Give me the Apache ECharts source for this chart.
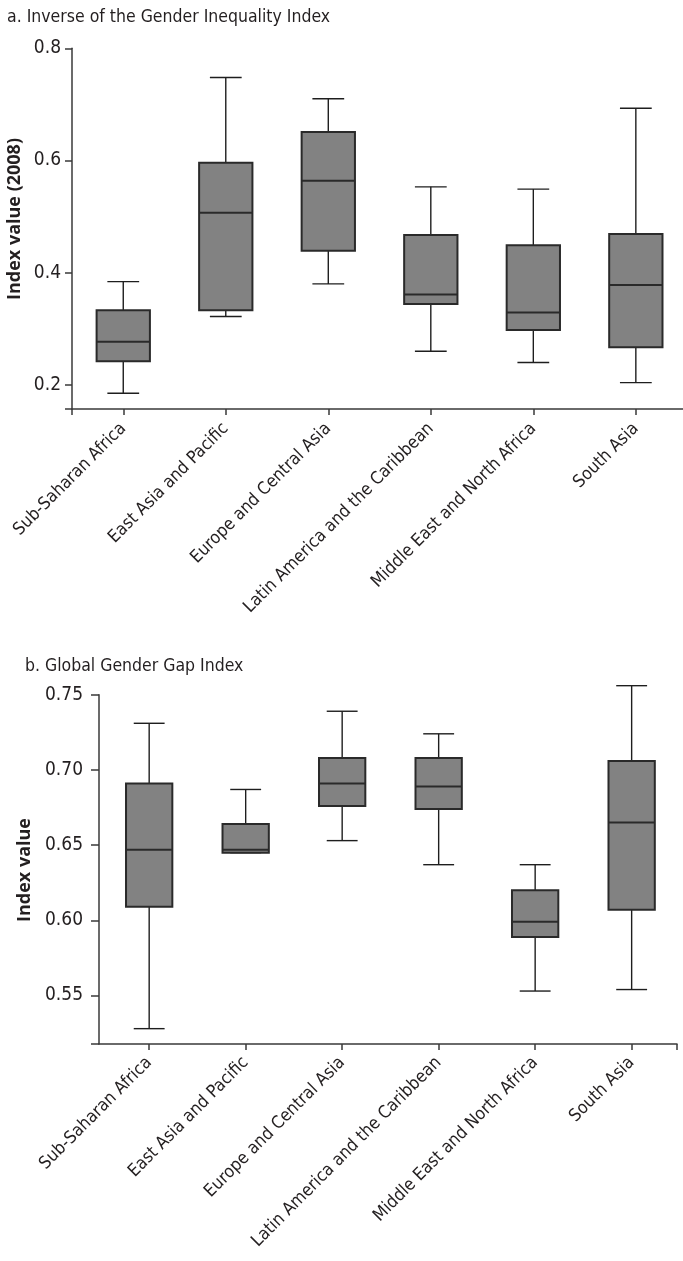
<!DOCTYPE html>
<html>
<head>
<meta charset="utf-8">
<script src="https://cdn.jsdelivr.net/npm/echarts@6/dist/echarts.min.js"></script>
<style>
html,body{margin:0;padding:0;background:#fff;}
#chart{width:683px;height:1261px;}
</style>
</head>
<body>
<div id="chart"></div>
<script>
// ---- data ----
const categories = ['Sub-Saharan Africa', 'East Asia and Pacific', 'Europe and Central Asia',
  'Latin America and the Caribbean', 'Middle East and North Africa', 'South Asia'];

// a. Inverse of the Gender Inequality Index (2008)
const giiMin    = [0.185, 0.322, 0.380, 0.260, 0.240, 0.204];
const giiQ1     = [0.242, 0.333, 0.439, 0.344, 0.298, 0.267];
const giiMedian = [0.277, 0.507, 0.564, 0.361, 0.329, 0.378];
const giiQ3     = [0.333, 0.596, 0.651, 0.467, 0.449, 0.469];
const giiMax    = [0.384, 0.748, 0.710, 0.553, 0.549, 0.693];
const giiTicks  = [0.2, 0.4, 0.6, 0.8];

// b. Global Gender Gap Index
const gggMin    = [0.528, 0.645, 0.653, 0.637, 0.553, 0.554];
const gggQ1     = [0.609, 0.645, 0.676, 0.674, 0.589, 0.607];
const gggMedian = [0.647, 0.647, 0.691, 0.689, 0.599, 0.665];
const gggQ3     = [0.691, 0.664, 0.708, 0.708, 0.620, 0.706];
const gggMax    = [0.731, 0.687, 0.739, 0.724, 0.637, 0.756];
const gggTicks  = [0.55, 0.60, 0.65, 0.70, 0.75];

const titleA = 'a. Inverse of the Gender Inequality Index';
const titleB = 'b. Global Gender Gap Index';
const yNameA = 'Index value (2008)';
const yNameB = 'Index value';

// ---- build ----
const catIdx = categories.map((c, i) => i);
function rows(mn, q1, md, q3, mx) {
  return catIdx.map(i => [i, mn[i], q1[i], md[i], q3[i], mx[i]]);
}
const narrow = "'Liberation Sans Narrow','DejaVu Sans Condensed','Roboto Condensed',sans-serif";
const bold = "'Open Sans','Noto Sans',sans-serif";
const axisColor = '#3a3a3a';
const textColor = '#231f20';

function makeRender(boxFrac, capFrac) {
  return function (params, api) {
    const x = api.value(0);
    const lo = api.coord([x, api.value(1)]);
    const q1 = api.coord([x, api.value(2)]);
    const md = api.coord([x, api.value(3)]);
    const q3 = api.coord([x, api.value(4)]);
    const hi = api.coord([x, api.value(5)]);
    const unit = api.size([1, 0])[0];
    const bw = unit * boxFrac, cw = unit * capFrac;
    const cx = lo[0];
    const lineStyle = { stroke: '#1e1e1e', lineWidth: 1.4 };
    return {
      type: 'group',
      children: [
        { type: 'line', shape: { x1: cx, y1: hi[1], x2: cx, y2: q3[1] }, style: lineStyle },
        { type: 'line', shape: { x1: cx, y1: q1[1], x2: cx, y2: lo[1] }, style: lineStyle },
        { type: 'line', shape: { x1: cx - cw / 2, y1: hi[1], x2: cx + cw / 2, y2: hi[1] }, style: lineStyle },
        { type: 'line', shape: { x1: cx - cw / 2, y1: lo[1], x2: cx + cw / 2, y2: lo[1] }, style: lineStyle },
        { type: 'rect', shape: { x: cx - bw / 2, y: q3[1], width: bw, height: q1[1] - q3[1] },
          style: { fill: '#828282', stroke: '#2a2a2a', lineWidth: 2 } },
        { type: 'line', shape: { x1: cx - bw / 2, y1: md[1], x2: cx + bw / 2, y2: md[1] },
          style: { stroke: '#2a2a2a', lineWidth: 2 } }
      ]
    };
  };
}

function xAxisCfg(gridIndex, min, max, tickVals, margin) {
  return {
    type: 'value', gridIndex, min, max,
    splitLine: { show: false },
    axisLine: { show: true, onZero: false, lineStyle: { color: axisColor, width: 1.5 } },
    axisTick: { show: true, length: 6, customValues: tickVals, lineStyle: { color: axisColor, width: 1.5 } },
    axisLabel: {
      customValues: catIdx, rotate: 45, margin,
      formatter: v => categories[Math.round(v)],
      fontFamily: narrow, fontSize: 17.5, color: textColor
    }
  };
}
function yAxisCfg(gridIndex, min, max, labels, decimals, tickLen, margin) {
  return {
    type: 'value', gridIndex, min, max,
    splitLine: { show: false },
    axisLine: { show: true, onZero: false, lineStyle: { color: axisColor, width: 1.5 } },
    axisTick: { show: true, length: tickLen, customValues: [min].concat(labels), lineStyle: { color: axisColor, width: 1.5 } },
    axisLabel: {
      customValues: labels, margin,
      formatter: v => v.toFixed(decimals),
      fontFamily: narrow, fontSize: 19, color: textColor
    }
  };
}

const option = {
  backgroundColor: '#fff',
  animation: false,
  title: [
    { text: titleA, left: 2, top: 3, textStyle: { fontFamily: narrow, fontSize: 17.5, fontWeight: 'normal', color: textColor } },
    { text: titleB, left: 20, top: 652, textStyle: { fontFamily: narrow, fontSize: 17.5, fontWeight: 'normal', color: textColor } }
  ],
  grid: [
    { left: 72, top: 48.3, right: 0, height: 360.7 },
    { left: 99, top: 694.7, width: 578, height: 349.3 }
  ],
  xAxis: [
    xAxisCfg(0, -0.5, 5.46, [-0.5].concat(catIdx), 17),
    xAxisCfg(1, -0.52, 5.47, catIdx.concat([5.47]), 16)
  ],
  yAxis: [
    yAxisCfg(0, 0.157, 0.8, giiTicks, 1, 7, 11),
    yAxisCfg(1, 0.5178, 0.75, gggTicks, 2, 8, 16)
  ],
  graphic: [
    { type: 'text', x: 15, y: 219, rotation: Math.PI / 2,
      style: { text: yNameA, fontFamily: bold, fontWeight: 'bold', fontSize: 18, fill: textColor, align: 'center', verticalAlign: 'middle' } },
    { type: 'text', x: 25, y: 870, rotation: Math.PI / 2,
      style: { text: yNameB, fontFamily: bold, fontWeight: 'bold', fontSize: 18, fill: textColor, align: 'center', verticalAlign: 'middle' } }
  ],
  series: [
    { type: 'custom', xAxisIndex: 0, yAxisIndex: 0, renderItem: makeRender(0.52, 0.31),
      encode: { x: 0, y: [1, 2, 3, 4, 5] }, data: rows(giiMin, giiQ1, giiMedian, giiQ3, giiMax), clip: false },
    { type: 'custom', xAxisIndex: 1, yAxisIndex: 1, renderItem: makeRender(0.48, 0.32),
      encode: { x: 0, y: [1, 2, 3, 4, 5] }, data: rows(gggMin, gggQ1, gggMedian, gggQ3, gggMax), clip: false }
  ]
};
const chart = echarts.init(document.getElementById('chart'), null, { renderer: 'canvas' });
chart.setOption(option);
</script>
</body>
</html>
